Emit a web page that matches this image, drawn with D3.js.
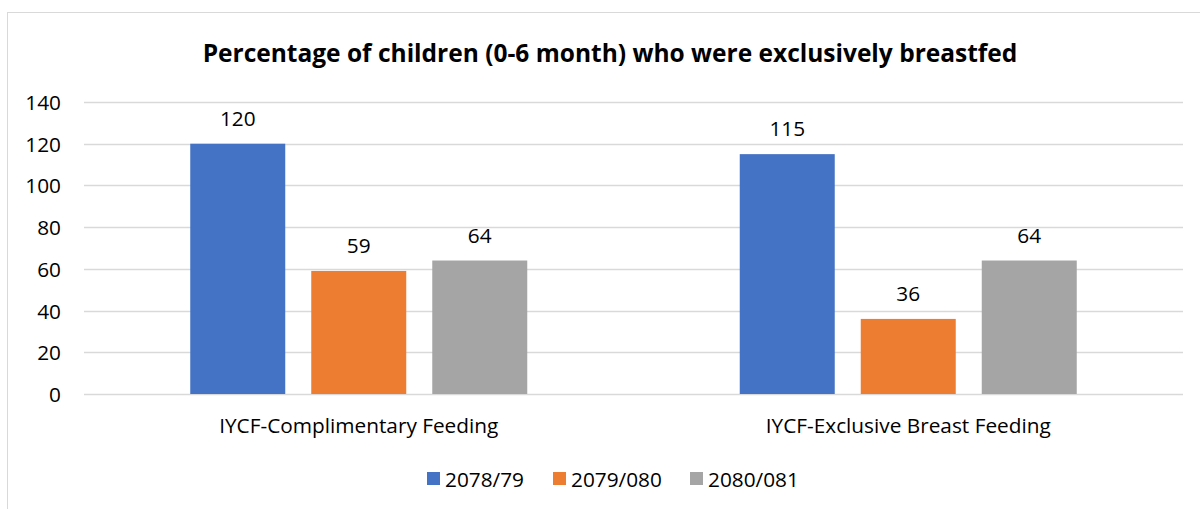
<!DOCTYPE html>
<html>
<head>
<meta charset="utf-8">
<script src="https://cdn.jsdelivr.net/npm/d3@7"></script>
<style>
  html, body { margin: 0; padding: 0; background: #fff; }
  svg { display: block; font-family: "Open Sans", Lato, sans-serif; }
</style>
</head>
<body>
<svg id="chart" width="1200" height="509"></svg>
<script>
const categories = ["IYCF-Complimentary Feeding", "IYCF-Exclusive Breast Feeding"];
const seriesNames = ["2078/79", "2079/080", "2080/081"];
const values2078 = [120, 115];
const values2079 = [59, 36];
const values2080 = [64, 64];
const yTicks = [0, 20, 40, 60, 80, 100, 120, 140];
const titleText = "Percentage of children (0-6 month) who were exclusively breastfed";
const colors = ["#4472C4", "#ED7D31", "#A5A5A5"];

const seriesValues = [values2078, values2079, values2080];
const data = categories.map((c, i) => ({
  category: c,
  values: seriesNames.map((s, j) => ({ series: s, value: seriesValues[j][i], color: colors[j] }))
}));

const FONT = "'Open Sans', Lato, sans-serif";
const FS = 20.8;
const svg = d3.select("#chart");
const plot = { left: 84, right: 1183, top: 102, bottom: 394 };

// chart border
svg.append("rect")
  .attr("x", 7.5).attr("y", 12.5)
  .attr("width", 1400).attr("height", 700)
  .attr("fill", "#fff").attr("stroke", "#d9d9d9").attr("stroke-width", 1);

const y = d3.scaleLinear().domain([0, 140]).range([plot.bottom, plot.top]);
const x0 = d3.scaleBand().domain(categories).range([plot.left, plot.right])
  .paddingInner(0.3867).paddingOuter(0.3867 / 2);
const x1 = d3.scaleBand().domain(seriesNames).range([0, x0.bandwidth()])
  .paddingInner(0.215).paddingOuter(0);

// gridlines
svg.append("g").selectAll("line").data(yTicks).join("line")
  .attr("x1", plot.left).attr("x2", plot.right)
  .attr("y1", d => Math.round(y(d)) + 0.5).attr("y2", d => Math.round(y(d)) + 0.5)
  .attr("stroke", "#d9d9d9").attr("stroke-width", 1.3);

// y axis labels
const yAxis = d3.axisLeft(y).tickValues(yTicks).tickSize(0).tickPadding(0);
const yg = svg.append("g").attr("transform", `translate(${plot.left - 23},0)`).call(yAxis);
yg.select(".domain").remove();
yg.selectAll("text").attr("font-size", FS).attr("fill", "#000")
  .attr("font-family", FONT).attr("dy", "0.36em");

// bars
const groups = svg.append("g").selectAll("g").data(data).join("g")
  .attr("transform", d => `translate(${x0(d.category)},0)`);
groups.selectAll("rect").data(d => d.values).join("rect")
  .attr("x", d => x1(d.series)).attr("width", x1.bandwidth())
  .attr("y", d => y(d.value)).attr("height", d => y(0) - y(d.value))
  .attr("fill", d => d.color);
groups.selectAll("text.val").data(d => d.values).join("text").attr("class", "val")
  .attr("x", d => x1(d.series) + x1.bandwidth() / 2)
  .attr("y", d => y(d.value) - 18)
  .attr("text-anchor", "middle").attr("font-size", FS).attr("fill", "#000")
  .text(d => d.value);

// category axis labels
const xAxis = d3.axisBottom(x0).tickSize(0).tickPadding(0);
const xg = svg.append("g").attr("transform", `translate(0,${433})`).call(xAxis);
xg.select(".domain").remove();
xg.selectAll("text").attr("font-size", FS).attr("fill", "#000")
  .attr("font-family", FONT).attr("dy", 0);

// title
svg.append("text").attr("x", 610).attr("y", 62)
  .attr("text-anchor", "middle").attr("font-size", 24.5).attr("font-weight", "bold")
  .attr("fill", "#000").text(titleText);

// legend
const legendX = [427, 553, 690];
const lg = svg.append("g").selectAll("g").data(seriesNames).join("g")
  .attr("transform", (d, i) => `translate(${legendX[i]},0)`);
lg.append("rect").attr("x", 0).attr("y", 472).attr("width", 13).attr("height", 13)
  .attr("fill", (d, i) => colors[i]);
lg.append("text").attr("x", 18).attr("y", 486.5).attr("font-size", FS).attr("fill", "#000")
  .text(d => d);
</script>
</body>
</html>
